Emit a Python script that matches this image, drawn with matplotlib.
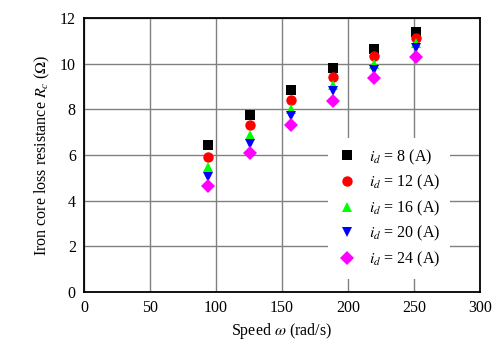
import numpy as np
import matplotlib
matplotlib.use("Agg")
from matplotlib import pyplot as plt

# speed points (rad/s) and iron core loss resistance per d-axis current
speed = [94.2, 125.7, 157.1, 188.5, 219.9, 251.3]
currents = [8, 12, 16, 20, 24]
rc_8 = [6.45, 7.75, 8.87, 9.81, 10.66, 11.39]
rc_12 = [5.93, 7.31, 8.43, 9.44, 10.32, 11.12]
rc_16 = [5.48, 6.88, 8.02, 9.06, 10.00, 10.90]
rc_20 = [5.05, 6.50, 7.70, 8.80, 9.72, 10.68]
rc_24 = [4.64, 6.10, 7.31, 8.39, 9.36, 10.29]

series = [rc_8, rc_12, rc_16, rc_20, rc_24]
colors = ['black', 'red', '#00ff00', 'blue', '#ff00ff']
markers = ['s', 'o', '^', 'v', 'D']
sizes = [7, 7.5, 7.5, 7.5, 7]

plt.rcParams['font.family'] = ['Liberation Serif', 'DejaVu Serif']
plt.rcParams['mathtext.fontset'] = 'stix'

fig = plt.figure(figsize=(5.01, 3.42), dpi=100)
ax = fig.add_axes([0.168, 0.146, 0.79, 0.801])

for vals, c, m, s, i_d in zip(series, colors, markers, sizes, currents):
    ax.plot(speed, vals, linestyle='none', marker=m, color=c,
            markersize=s, markeredgewidth=0, label=f'$i_d$ = {i_d} (A)')

ax.set_xlim(0, 300)
ax.set_ylim(0, 12)
ax.set_xticks(np.arange(0, 301, 50))
ax.set_yticks(np.arange(0, 13, 2))
ax.grid(True, color='#808080', linewidth=1)
ax.set_axisbelow(True)
ax.tick_params(length=0, labelsize=11.5, pad=6)
for sp in ax.spines.values():
    sp.set_linewidth(1.3)

ax.set_xlabel(r'Speed $\omega$ (rad/s)', fontsize=11.5, labelpad=3)
ax.set_ylabel(r'Iron core loss resistance $R_c$ ($\Omega$)', fontsize=11.5, labelpad=6)

leg = ax.legend(loc='lower right', bbox_to_anchor=(0.945, 0.02), frameon=True,
                fontsize=11.5, handletextpad=0.8, labelspacing=0.4,
                borderpad=0.6, numpoints=1, handlelength=1.2)
leg.get_frame().set_facecolor('white')
leg.get_frame().set_edgecolor('none')
leg.get_frame().set_alpha(1)

fig.savefig('out.png', dpi=100)
